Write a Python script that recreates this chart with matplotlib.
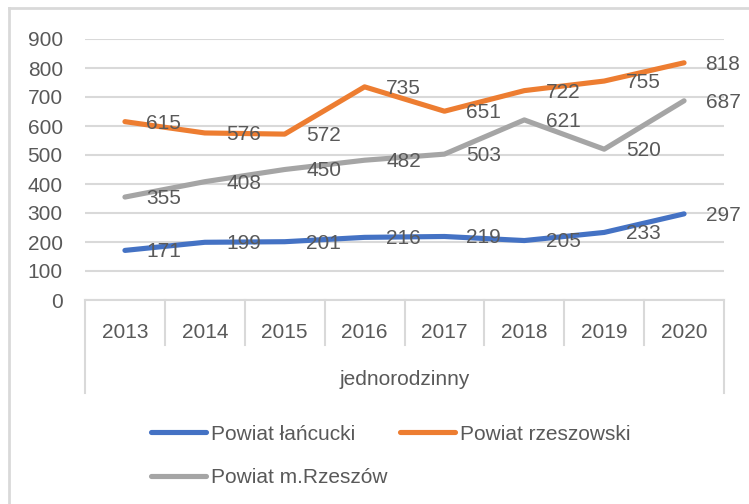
import matplotlib
matplotlib.use("Agg")
import matplotlib.pyplot as plt
from matplotlib.lines import Line2D

years = ["2013", "2014", "2015", "2016", "2017", "2018", "2019", "2020"]
group_label = "jednorodzinny"
lancucki = [171, 199, 201, 216, 219, 205, 233, 297]
rzeszowski = [615, 576, 572, 735, 651, 722, 755, 818]
m_rzeszow = [355, 408, 450, 482, 503, 621, 520, 687]
series_names = ["Powiat łańcucki", "Powiat rzeszowski", "Powiat m.Rzeszów"]
colors = ["#4472C4", "#ED7D31", "#A5A5A5"]

text_col = "#595959"
grid_col = "#D9D9D9"
plt.rcParams["font.family"] = ["Liberation Sans", "DejaVu Sans"]
plt.rcParams["font.size"] = 15

W, H = 749, 504
fig = plt.figure(figsize=(W / 100, H / 100), dpi=100)
ax = fig.add_axes([85 / W, (H - 300) / H, (724 - 85) / W, (300 - 39) / H])

x = list(range(len(years)))
lines = []
for vals, name, c in zip([lancucki, rzeszowski, m_rzeszow], series_names, colors):
    ln, = ax.plot(x, vals, color=c, lw=3.7, solid_capstyle="round",
                  solid_joinstyle="round", label=name, zorder=3)
    lines.append(ln)
    for xi, v in zip(x, vals):
        ax.annotate(str(v), (xi, v), xytext=(15.5, -1), textcoords="offset points",
                    ha="left", va="center", color=text_col, fontsize=15,
                    zorder=4, annotation_clip=False)

ax.set_xlim(-0.5, len(years) - 0.5)
ax.set_ylim(0, 900)
ax.set_yticks(range(0, 901, 100))
ax.yaxis.grid(True, color=grid_col, lw=1.5)
ax.set_axisbelow(True)
ax.tick_params(axis="y", length=0, pad=16, colors=text_col, labelsize=15)
ax.set_xticks([])
for s in ax.spines.values():
    s.set_visible(False)

# category axis: separators, year labels and the group label
tr = ax.get_xaxis_transform()
ax.plot([-0.5, len(years) - 0.5], [0, 0], transform=tr, color=grid_col,
        lw=1.5, clip_on=False)
for b in range(len(years) + 1):
    edge = b - 0.5
    bottom = -0.356 if b in (0, len(years)) else -0.172
    ax.plot([edge, edge], [0, bottom], transform=tr, color=grid_col,
            lw=1.5, clip_on=False)
for xi, y in zip(x, years):
    ax.text(xi, -0.123, y, transform=tr, ha="center", va="center",
            color=text_col, fontsize=15)
ax.text((len(years) - 1) / 2, -0.303, group_label, transform=tr,
        ha="center", va="center", color=text_col, fontsize=15)

# legend rows: blue + orange, then grey
leg = fig.legend([lines[0], lines[2], lines[1]],
                 [series_names[0], series_names[2], series_names[1]],
                 ncol=2, frameon=False, fontsize=15, labelcolor=text_col,
                 handlelength=2.64, handletextpad=0.24, columnspacing=0.6,
                 labelspacing=1.18, loc="upper left",
                 bbox_to_anchor=(142 / W - 0.0135, 1 - 406 / H))
for h in leg.legend_handles:
    h.set_solid_capstyle("round")

# chart frame
fig.add_artist(Line2D([9 / W, 1], [1 - 8 / H, 1 - 8 / H], color=grid_col, lw=2))
fig.add_artist(Line2D([9 / W, 9 / W], [0, 1 - 8 / H], color=grid_col, lw=2))

fig.savefig("out.png", dpi=100)
